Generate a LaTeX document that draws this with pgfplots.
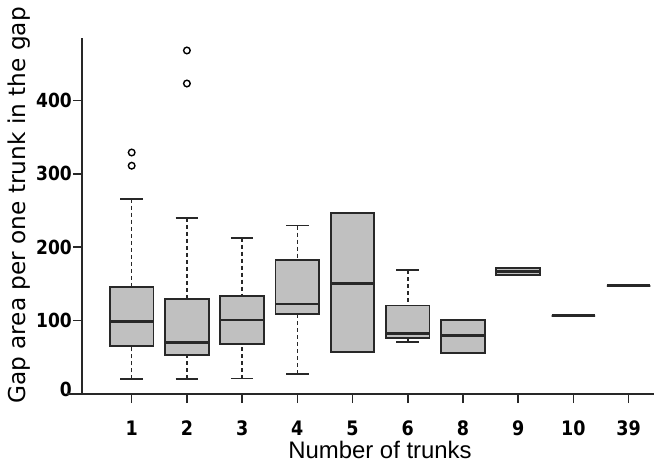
\documentclass[border=0pt]{standalone}
\usepackage{fontspec}
\setmainfont{DejaVu Sans}
\newfontfamily\tickfont{DejaVu Sans}[FakeStretch=0.88]
\newfontfamily\xlabfont{Liberation Sans}
\usepackage{pgfplots}
\pgfplotsset{compat=1.18}
\usepgfplotslibrary{statistics}

\definecolor{boxfill}{RGB}{192,192,192}
\definecolor{ink}{RGB}{40,40,40}

\pgfplotsset{
  gapbox/.style={
    draw=ink, line width=1.8bp, solid, mark=o,
    mark size=3.3bp,
    mark options={draw=black, line width=1.4bp, solid},
    boxplot/box extend=0.79,
    boxplot/whisker extend=0.41,
    boxplot/every box/.style={fill=boxfill},
    boxplot/every median/.style={line width=2.7bp},
    boxplot/draw/lower whisker/.code={%
      \draw[dash pattern=on 4bp off 3bp, line width=1.6bp]
        (boxplot box cs:\pgfplotsboxplotvalue{lower whisker},0.5) --
        (boxplot box cs:\pgfplotsboxplotvalue{lower quartile},0.5);
      \draw (boxplot whisker cs:\pgfplotsboxplotvalue{lower whisker},0) --
        (boxplot whisker cs:\pgfplotsboxplotvalue{lower whisker},1);
    },
    boxplot/draw/upper whisker/.code={%
      \draw[dash pattern=on 4bp off 3bp, line width=1.6bp]
        (boxplot box cs:\pgfplotsboxplotvalue{upper whisker},0.5) --
        (boxplot box cs:\pgfplotsboxplotvalue{upper quartile},0.5);
      \draw (boxplot whisker cs:\pgfplotsboxplotvalue{upper whisker},0) --
        (boxplot whisker cs:\pgfplotsboxplotvalue{upper whisker},1);
    },
  },
}

\begin{document}
\begin{tikzpicture}
\begin{axis}[
  scale only axis, width=572bp, height=356bp,
  xmin=0.1, xmax=10.46, ymin=0, ymax=485,
  axis lines*=left,
  axis line style={ink, line width=1.8bp},
  tick align=outside, major tick length=9bp,
  tick style={ink, line width=1.6bp},
  xtick={1,...,10}, xticklabels={1,2,3,4,5,6,8,9,10,39},
  ytick={0,100,200,300,400},
  yticklabels={\raisebox{9bp}{0},100,200,300,400},
  xticklabel style={font=\tickfont\bfseries\fontsize{20}{24}\selectfont,
    anchor=base, inner sep=0pt, yshift=-32bp},
  yticklabel style={font=\tickfont\bfseries\fontsize{19.5}{23}\selectfont,
    inner sep=1pt},
  clip=false,
  boxplot/draw direction=y,
]
% number of trunks: 1
\addplot[gapbox, boxplot prepared={draw position=1,
  lower whisker=20, lower quartile=65.5, median=98.5,
  upper quartile=145.5, upper whisker=266}]
  table[row sep=\\, y index=0] {329\\ 311\\};
% 2
\addplot[gapbox, boxplot prepared={draw position=2,
  lower whisker=20.5, lower quartile=53, median=70,
  upper quartile=129, upper whisker=240}]
  table[row sep=\\, y index=0] {468\\ 423\\};
% 3
\addplot[gapbox, boxplot prepared={draw position=3,
  lower whisker=21, lower quartile=68, median=101,
  upper quartile=133, upper whisker=213}]
  coordinates {};
% 4
\addplot[gapbox, boxplot prepared={draw position=4,
  lower whisker=27.5, lower quartile=109, median=122.5,
  upper quartile=182.5, upper whisker=229.5}]
  coordinates {};
% 5
\addplot[gapbox, boxplot prepared={draw position=5,
  lower whisker=57, lower quartile=57, median=151,
  upper quartile=246.5, upper whisker=246.5}]
  coordinates {};
% 6
\addplot[gapbox, boxplot prepared={draw position=6,
  lower whisker=71, lower quartile=76, median=82,
  upper quartile=120.5, upper whisker=168.5}]
  coordinates {};
% 8
\addplot[gapbox, boxplot prepared={draw position=7,
  lower whisker=55.5, lower quartile=55.5, median=80,
  upper quartile=101, upper whisker=101}]
  coordinates {};
% 9
\addplot[gapbox, boxplot prepared={draw position=8,
  lower whisker=162, lower quartile=162, median=166.5,
  upper quartile=171.5, upper whisker=171.5}]
  coordinates {};
% 10
\addplot[gapbox, boxplot prepared={draw position=9,
  lower whisker=106.5, lower quartile=106.5, median=106.5,
  upper quartile=106.5, upper whisker=106.5}]
  coordinates {};
% 39
\addplot[gapbox, boxplot prepared={draw position=10,
  lower whisker=147.5, lower quartile=147.5, median=147.5,
  upper quartile=147.5, upper whisker=147.5}]
  coordinates {};

% x axis line runs a little left of the y axis
\draw[ink, line width=1.8bp] (rel axis cs:0,0) -- ++(-9bp,0);
\end{axis}

\node[rotate=90, anchor=base west, inner sep=0pt,
  font=\fontsize{23.3}{27}\selectfont] at (-56.5bp,-10bp)
  {Gap area per one trunk in the gap};
\node[anchor=base, inner sep=0pt,
  font=\xlabfont\fontsize{24}{28}\selectfont] at (298bp,-64.5bp)
  {Number of trunks};

\pgfresetboundingbox
\path[use as bounding box] (-82bp,-71bp) rectangle (572bp,394bp);
\end{tikzpicture}
\end{document}
